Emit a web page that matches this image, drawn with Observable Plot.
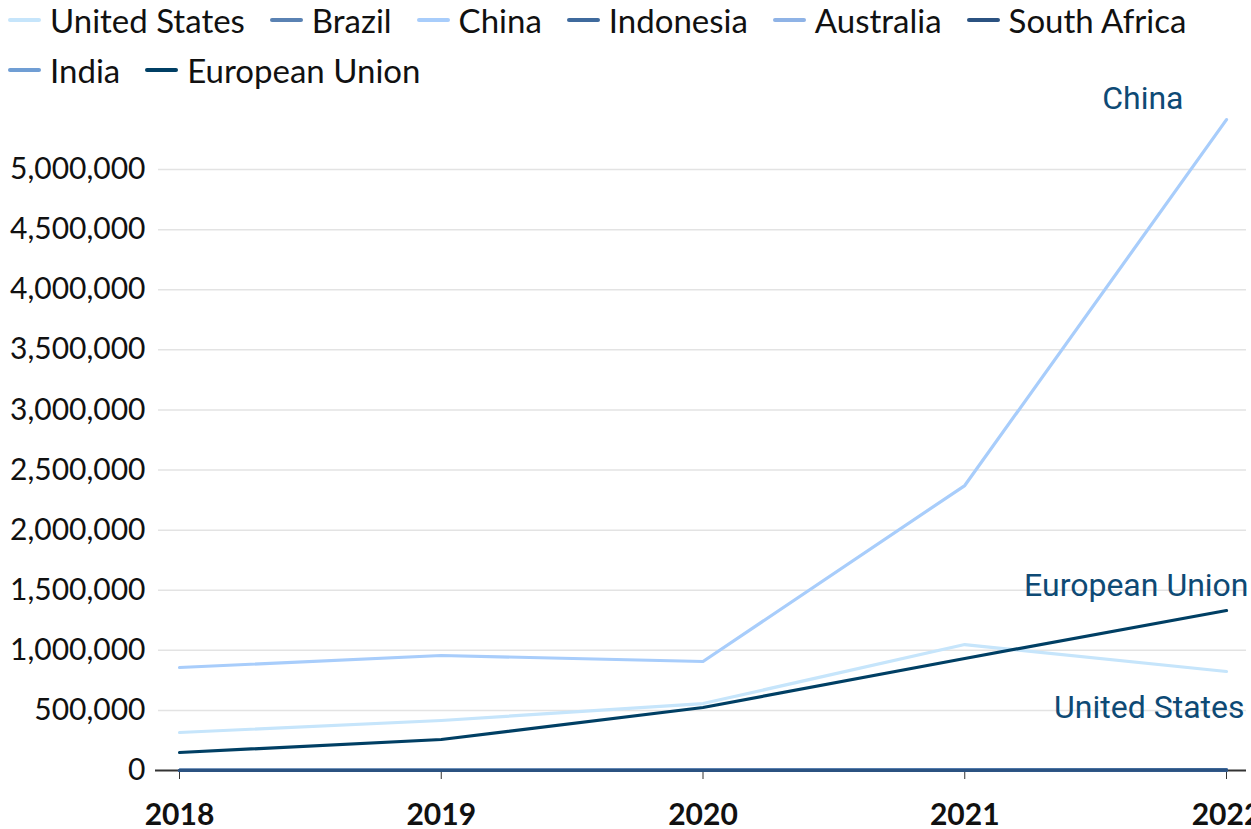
<!DOCTYPE html>
<html><head><meta charset="utf-8">
<script src="https://cdn.jsdelivr.net/npm/d3@7"></script>
<script src="https://cdn.jsdelivr.net/npm/@observablehq/plot@0.6"></script>
<style>
html,body{margin:0;padding:0;background:#fff;overflow:hidden;}
#legend{display:flex;flex-wrap:wrap;width:1225px;padding-left:8px;font-family:Lato,sans-serif;font-size:33px;color:#111;height:100px;box-sizing:border-box;}
.item{display:flex;align-items:center;height:54px;margin-right:25px;margin-top:-7px;}
.sw{width:33px;height:4px;border-radius:2px;margin-right:9px;}
</style></head>
<body>
<div id="legend"></div>
<div id="chart"></div>
<script>
const years = [2018, 2019, 2020, 2021, 2022];
const countries = ["United States","Brazil","China","Indonesia","Australia","South Africa","India","European Union"];
const colors = ["#c6e5fb","#5a82b3","#a8cdfb","#3f6a9d","#8fb3e6","#2b5281","#709ed4","#003f64"];
const unitedStates = [316000, 416000, 557000, 1048000, 824000];
const brazil = [1000, 1500, 2500, 4000, 6000];
const china = [857000, 957000, 907000, 2371000, 5416000];
const indonesia = [500, 700, 1000, 1500, 2500];
const australia = [2000, 2500, 3000, 4500, 6000];
const southAfrica = [800, 1000, 1200, 1800, 2500];
const india = [1500, 2000, 3000, 5000, 8000];
const europeanUnion = [150000, 258000, 524000, 932000, 1331000];
const yTicks = [0,500000,1000000,1500000,2000000,2500000,3000000,3500000,4000000,4500000,5000000];
const labelled = ["China","European Union","United States"];

const seriesByCountry = {
  "United States": unitedStates, "Brazil": brazil, "China": china, "Indonesia": indonesia,
  "Australia": australia, "South Africa": southAfrica, "India": india, "European Union": europeanUnion
};
// drawing order: darker near-zero lines on top
const drawOrder = ["United States","China","Australia","India","Brazil","Indonesia","South Africa","European Union"];
const data = [];
drawOrder.forEach(c => years.forEach((y, j) => data.push({country: c, year: y, value: seriesByCountry[c][j]})));
const lastPts = data.filter(d => d.year === 2022 && labelled.includes(d.country));

const legend = document.getElementById("legend");
countries.forEach((c, i) => {
  const it = document.createElement("div"); it.className = "item";
  const sw = document.createElement("div"); sw.className = "sw"; sw.style.background = colors[i];
  const t = document.createElement("span"); t.textContent = c;
  it.appendChild(sw); it.appendChild(t); legend.appendChild(it);
});

const labelOffsets = {"China": {dx: -43, dy: -21}, "European Union": {dx: 22, dy: -25}, "United States": {dx: 18, dy: 36}};

const chart = Plot.plot({
  width: 1251,
  height: 729,
  marginLeft: 179,
  marginRight: 25,
  marginTop: 9,
  marginBottom: 59,
  style: {fontFamily: "Lato, sans-serif", overflow: "visible", background: "white"},
  x: {domain: [2018, 2022], ticks: years, tickFormat: d => String(d), label: null},
  y: {domain: [0, 5500000], label: null},
  color: {domain: countries, range: colors},
  marks: [
    Plot.ruleY(yTicks.filter(d => d > 0), {stroke: "#e3e3e3", strokeWidth: 1.5, insetLeft: -21, insetRight: -20}),
    Plot.axisY(yTicks, {tickSize: 0, tickPadding: 34, fontSize: 30, fill: "#111", tickFormat: d3.format(","), label: null}),
    Plot.axisX(years, {tickSize: 9, tickPadding: 24, fontSize: 30, fontWeight: "bold", fill: "#111", stroke: "#333", tickFormat: d => String(d), label: null}),
    Plot.ruleY([0], {stroke: "#333", strokeWidth: 2, insetLeft: -24, insetRight: -20}),
    Plot.line(data, {x: "year", y: "value", z: "country", stroke: "country", strokeWidth: 3.2}),
    ...labelled.map(c => Plot.text(lastPts.filter(d => d.country === c), {
      x: "year", y: "value", text: "country", fill: "#0e4a75", fontSize: 32,
      fontFamily: "Roboto", textAnchor: "end", dx: labelOffsets[c].dx, dy: labelOffsets[c].dy
    }))
  ]
});
document.getElementById("chart").appendChild(chart);
</script>
</body></html>
